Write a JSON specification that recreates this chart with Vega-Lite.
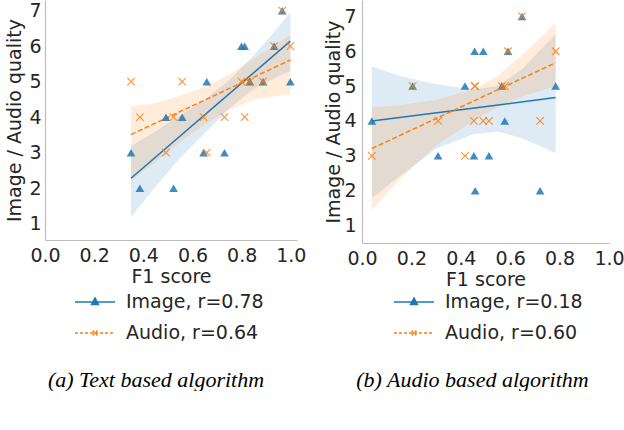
{
  "$schema": "https://vega.github.io/schema/vega-lite/v6.json",
  "background": "white",
  "padding": {"left": 5, "top": 0, "right": 0, "bottom": 0},
  "spacing": 18,
  "datasets": {
    "a_pts": [
      {"f1": 0.350, "q": 3, "s": "Image, r=0.78"}, {"f1": 0.386, "q": 2, "s": "Image, r=0.78"},
      {"f1": 0.492, "q": 4, "s": "Image, r=0.78"}, {"f1": 0.523, "q": 2, "s": "Image, r=0.78"},
      {"f1": 0.558, "q": 4, "s": "Image, r=0.78"}, {"f1": 0.645, "q": 3, "s": "Image, r=0.78"},
      {"f1": 0.658, "q": 5, "s": "Image, r=0.78"}, {"f1": 0.730, "q": 3, "s": "Image, r=0.78"},
      {"f1": 0.799, "q": 6, "s": "Image, r=0.78"}, {"f1": 0.812, "q": 6, "s": "Image, r=0.78"},
      {"f1": 0.833, "q": 5, "s": "Image, r=0.78"}, {"f1": 0.887, "q": 5, "s": "Image, r=0.78"},
      {"f1": 0.932, "q": 6, "s": "Image, r=0.78"}, {"f1": 0.965, "q": 7, "s": "Image, r=0.78"},
      {"f1": 0.998, "q": 5, "s": "Image, r=0.78"},
      {"f1": 0.350, "q": 5, "s": "Audio, r=0.64"}, {"f1": 0.386, "q": 4, "s": "Audio, r=0.64"},
      {"f1": 0.492, "q": 3, "s": "Audio, r=0.64"}, {"f1": 0.523, "q": 4, "s": "Audio, r=0.64"},
      {"f1": 0.558, "q": 5, "s": "Audio, r=0.64"}, {"f1": 0.645, "q": 4, "s": "Audio, r=0.64"},
      {"f1": 0.658, "q": 3, "s": "Audio, r=0.64"}, {"f1": 0.730, "q": 4, "s": "Audio, r=0.64"},
      {"f1": 0.799, "q": 5, "s": "Audio, r=0.64"}, {"f1": 0.812, "q": 4, "s": "Audio, r=0.64"},
      {"f1": 0.833, "q": 5, "s": "Audio, r=0.64"}, {"f1": 0.887, "q": 5, "s": "Audio, r=0.64"},
      {"f1": 0.932, "q": 6, "s": "Audio, r=0.64"}, {"f1": 0.965, "q": 7, "s": "Audio, r=0.64"},
      {"f1": 0.998, "q": 6, "s": "Audio, r=0.64"}
    ],
    "a_fit": [
      {"f1": 0.350, "q": 2.28, "s": "Image, r=0.78"}, {"f1": 0.998, "q": 6.14, "s": "Image, r=0.78"},
      {"f1": 0.350, "q": 3.51, "s": "Audio, r=0.64"}, {"f1": 0.998, "q": 5.61, "s": "Audio, r=0.64"}
    ],
    "a_band": [
      {"f1": 0.350, "q": 1.19, "hi": 3.19, "s": "Image, r=0.78"},
      {"f1": 0.450, "q": 2.05, "hi": 3.60, "s": "Image, r=0.78"},
      {"f1": 0.550, "q": 2.85, "hi": 4.05, "s": "Image, r=0.78"},
      {"f1": 0.650, "q": 3.55, "hi": 4.50, "s": "Image, r=0.78"},
      {"f1": 0.750, "q": 4.25, "hi": 5.05, "s": "Image, r=0.78"},
      {"f1": 0.850, "q": 4.80, "hi": 5.75, "s": "Image, r=0.78"},
      {"f1": 0.950, "q": 5.15, "hi": 6.55, "s": "Image, r=0.78"},
      {"f1": 0.998, "q": 5.30, "hi": 6.96, "s": "Image, r=0.78"},
      {"f1": 0.350, "q": 2.20, "hi": 4.30, "s": "Audio, r=0.64"},
      {"f1": 0.450, "q": 2.75, "hi": 4.40, "s": "Audio, r=0.64"},
      {"f1": 0.550, "q": 3.30, "hi": 4.60, "s": "Audio, r=0.64"},
      {"f1": 0.650, "q": 3.80, "hi": 4.85, "s": "Audio, r=0.64"},
      {"f1": 0.750, "q": 4.20, "hi": 5.20, "s": "Audio, r=0.64"},
      {"f1": 0.850, "q": 4.50, "hi": 5.65, "s": "Audio, r=0.64"},
      {"f1": 0.950, "q": 4.60, "hi": 6.10, "s": "Audio, r=0.64"},
      {"f1": 0.998, "q": 4.65, "hi": 6.31, "s": "Audio, r=0.64"}
    ],
    "b_pts": [
      {"f1": 0.040, "q": 4, "s": "Image, r=0.18"}, {"f1": 0.205, "q": 5, "s": "Image, r=0.18"},
      {"f1": 0.308, "q": 3, "s": "Image, r=0.18"}, {"f1": 0.417, "q": 5, "s": "Image, r=0.18"},
      {"f1": 0.453, "q": 3, "s": "Image, r=0.18"}, {"f1": 0.456, "q": 6, "s": "Image, r=0.18"},
      {"f1": 0.458, "q": 2, "s": "Image, r=0.18"}, {"f1": 0.491, "q": 6, "s": "Image, r=0.18"},
      {"f1": 0.514, "q": 3, "s": "Image, r=0.18"}, {"f1": 0.566, "q": 5, "s": "Image, r=0.18"},
      {"f1": 0.578, "q": 4, "s": "Image, r=0.18"}, {"f1": 0.591, "q": 6, "s": "Image, r=0.18"},
      {"f1": 0.648, "q": 7, "s": "Image, r=0.18"}, {"f1": 0.721, "q": 2, "s": "Image, r=0.18"},
      {"f1": 0.784, "q": 5, "s": "Image, r=0.18"},
      {"f1": 0.040, "q": 3, "s": "Audio, r=0.60"}, {"f1": 0.205, "q": 5, "s": "Audio, r=0.60"},
      {"f1": 0.308, "q": 4, "s": "Audio, r=0.60"}, {"f1": 0.417, "q": 3, "s": "Audio, r=0.60"},
      {"f1": 0.453, "q": 4, "s": "Audio, r=0.60"}, {"f1": 0.456, "q": 5, "s": "Audio, r=0.60"},
      {"f1": 0.458, "q": 5, "s": "Audio, r=0.60"}, {"f1": 0.491, "q": 4, "s": "Audio, r=0.60"},
      {"f1": 0.514, "q": 4, "s": "Audio, r=0.60"}, {"f1": 0.566, "q": 5, "s": "Audio, r=0.60"},
      {"f1": 0.578, "q": 5, "s": "Audio, r=0.60"}, {"f1": 0.591, "q": 6, "s": "Audio, r=0.60"},
      {"f1": 0.648, "q": 7, "s": "Audio, r=0.60"}, {"f1": 0.721, "q": 4, "s": "Audio, r=0.60"},
      {"f1": 0.784, "q": 6, "s": "Audio, r=0.60"}
    ],
    "b_fit": [
      {"f1": 0.040, "q": 4.00, "s": "Image, r=0.18"}, {"f1": 0.784, "q": 4.67, "s": "Image, r=0.18"},
      {"f1": 0.040, "q": 3.21, "s": "Audio, r=0.60"}, {"f1": 0.784, "q": 5.67, "s": "Audio, r=0.60"}
    ],
    "b_band": [
      {"f1": 0.040, "q": 1.78, "hi": 5.57, "s": "Image, r=0.18"},
      {"f1": 0.150, "q": 2.40, "hi": 5.30, "s": "Image, r=0.18"},
      {"f1": 0.300, "q": 3.20, "hi": 5.05, "s": "Image, r=0.18"},
      {"f1": 0.450, "q": 3.62, "hi": 4.90, "s": "Image, r=0.18"},
      {"f1": 0.550, "q": 3.70, "hi": 5.00, "s": "Image, r=0.18"},
      {"f1": 0.650, "q": 3.50, "hi": 5.50, "s": "Image, r=0.18"},
      {"f1": 0.784, "q": 3.08, "hi": 6.50, "s": "Image, r=0.18"},
      {"f1": 0.040, "q": 1.44, "hi": 4.39, "s": "Audio, r=0.60"},
      {"f1": 0.150, "q": 2.30, "hi": 4.45, "s": "Audio, r=0.60"},
      {"f1": 0.300, "q": 3.30, "hi": 4.60, "s": "Audio, r=0.60"},
      {"f1": 0.450, "q": 4.00, "hi": 4.90, "s": "Audio, r=0.60"},
      {"f1": 0.550, "q": 4.40, "hi": 5.30, "s": "Audio, r=0.60"},
      {"f1": 0.650, "q": 4.70, "hi": 5.90, "s": "Audio, r=0.60"},
      {"f1": 0.784, "q": 5.00, "hi": 6.80, "s": "Audio, r=0.60"}
    ]
  },
  "config": {
    "view": {"stroke": null},
    "axis": {
      "domainColor": "#bcbcbc", "domainWidth": 1.2, "ticks": false, "grid": false,
      "labelFont": "DejaVu Sans", "labelFontSize": 19, "labelColor": "#262626",
      "titleFont": "DejaVu Sans", "titleFontSize": 19, "titleFontWeight": "normal", "titleColor": "#262626",
      "labelFlush": false, "labelBound": false, "labelOverlap": false
    },
    "axisX": {"labelPadding": 6, "titlePadding": 2},
    "axisY": {"labelPadding": 4, "titlePadding": 4},
    "legend": {
      "labelFont": "DejaVu Sans", "labelFontSize": 19, "labelColor": "#262626",
      "labelOffset": 10, "symbolSize": 1600, "rowPadding": -10, "symbolStrokeWidth": 1.5
    },
    "title": {"font": "Liberation Serif", "fontSize": 22, "fontStyle": "italic", "fontWeight": "normal", "color": "#000000"}
  },
  "resolve": {"scale": {"color": "independent", "x": "independent", "y": "independent"}, "legend": {"color": "independent"}},
  "hconcat": [
    {
      "width": 252,
      "height": 240,
      "title": {"text": "(a) Text based algorithm", "orient": "bottom", "anchor": "middle", "dx": -15, "offset": 27},
      "encoding": {
        "x": {"field": "f1", "type": "quantitative", "scale": {"domain": [0, 1.025], "nice": false, "zero": false},
              "axis": {"values": [0, 0.2, 0.4, 0.6, 0.8, 1.0], "format": ".1f", "title": "F1 score"}},
        "y": {"field": "q", "type": "quantitative", "scale": {"domain": [0.54, 7.3], "nice": false, "zero": false},
              "axis": {"values": [1, 2, 3, 4, 5, 6, 7], "format": "d", "title": "Image / Audio quality", "labelOverlap": false, "labelFlush": false, "labelSeparation": 0}},
        "color": {"field": "s", "type": "nominal",
                  "scale": {"domain": ["Image, r=0.78", "Audio, r=0.64"], "range": ["#1f77b4", "#ff7f0e"]},
                  "legend": {"title": null, "orient": "none", "legendX": 29, "legendY": 281, "direction": "vertical",
                    "encode": {"symbols": {"update": {
                      "shape": [{"test": "indexof(datum.value,'Image')>=0", "value": "M-1,0H1M0,-0.2L0.17,0.12H-0.17Z"}, {"value": "M-1,0H1M-0.12,-0.12L0.12,0.12M-0.12,0.12L0.12,-0.12"}],
                      "strokeDash": [{"test": "indexof(datum.value,'Audio')>=0", "value": [3, 2]}, {"value": [1, 0]}],
                      "fill": [{"test": "indexof(datum.value,'Image')>=0", "value": "#1f77b4"}, {"value": "#ff7f0e"}],
                      "stroke": [{"test": "indexof(datum.value,'Image')>=0", "value": "#1f77b4"}, {"value": "#ffb070"}],
                      "opacity": {"value": 1}, "fillOpacity": {"value": 1}, "strokeOpacity": {"value": 1}}}}}}
      },
      "layer": [
        {"data": {"name": "a_band"}, "mark": {"type": "area", "opacity": 0.15},
         "encoding": {"y2": {"field": "hi"}}},
        {"data": {"name": "a_fit"}, "transform": [{"filter": "indexof(datum.s,'Image')>=0"}], "mark": {"type": "line", "strokeWidth": 1.5}},
        {"data": {"name": "a_fit"}, "transform": [{"filter": "indexof(datum.s,'Audio')>=0"}], "mark": {"type": "line", "strokeWidth": 1.5, "strokeDash": [5, 2.5]}},
        {"data": {"name": "a_pts"}, "transform": [{"filter": "indexof(datum.s,'Image')>=0"}], "mark": {"type": "point", "shape": "triangle-up", "filled": true, "size": 75, "opacity": 0.85}},
        {"data": {"name": "a_pts"}, "transform": [{"filter": "indexof(datum.s,'Audio')>=0"}], "mark": {"type": "point", "shape": "M-1,-1L1,1M-1,1L1,-1", "filled": false, "size": 56, "strokeWidth": 1.1, "opacity": 0.85}}
      ]
    },
    {
      "width": 247,
      "height": 243,
      "title": {"text": "(b) Audio based algorithm", "orient": "bottom", "anchor": "middle", "dx": -13, "offset": 27},
      "encoding": {
        "x": {"field": "f1", "type": "quantitative", "scale": {"domain": [0, 1], "nice": false, "zero": false},
              "axis": {"values": [0, 0.2, 0.4, 0.6, 0.8, 1.0], "format": ".1f", "title": "F1 score"}},
        "y": {"field": "q", "type": "quantitative", "scale": {"domain": [0.5, 7.47], "nice": false, "zero": false},
              "axis": {"values": [1, 2, 3, 4, 5, 6, 7], "format": "d", "title": "Image / Audio quality", "labelPadding": 6, "titlePadding": 0, "labelOverlap": false, "labelFlush": false, "labelSeparation": 0}},
        "color": {"field": "s", "type": "nominal",
                  "scale": {"domain": ["Image, r=0.18", "Audio, r=0.60"], "range": ["#1f77b4", "#ff7f0e"]},
                  "legend": {"title": null, "orient": "none", "legendX": 31, "legendY": 281, "direction": "vertical",
                    "encode": {"symbols": {"update": {
                      "shape": [{"test": "indexof(datum.value,'Image')>=0", "value": "M-1,0H1M0,-0.2L0.17,0.12H-0.17Z"}, {"value": "M-1,0H1M-0.12,-0.12L0.12,0.12M-0.12,0.12L0.12,-0.12"}],
                      "strokeDash": [{"test": "indexof(datum.value,'Audio')>=0", "value": [3, 2]}, {"value": [1, 0]}],
                      "fill": [{"test": "indexof(datum.value,'Image')>=0", "value": "#1f77b4"}, {"value": "#ff7f0e"}],
                      "stroke": [{"test": "indexof(datum.value,'Image')>=0", "value": "#1f77b4"}, {"value": "#ff7f0e"}],
                      "opacity": {"value": 1}, "fillOpacity": {"value": 1}, "strokeOpacity": {"value": 1}}}}}}
      },
      "layer": [
        {"data": {"name": "b_band"}, "mark": {"type": "area", "opacity": 0.15},
         "encoding": {"y2": {"field": "hi"}}},
        {"data": {"name": "b_fit"}, "transform": [{"filter": "indexof(datum.s,'Image')>=0"}], "mark": {"type": "line", "strokeWidth": 1.5}},
        {"data": {"name": "b_fit"}, "transform": [{"filter": "indexof(datum.s,'Audio')>=0"}], "mark": {"type": "line", "strokeWidth": 1.5, "strokeDash": [5, 2.5]}},
        {"data": {"name": "b_pts"}, "transform": [{"filter": "indexof(datum.s,'Image')>=0"}], "mark": {"type": "point", "shape": "triangle-up", "filled": true, "size": 75, "opacity": 0.85}},
        {"data": {"name": "b_pts"}, "transform": [{"filter": "indexof(datum.s,'Audio')>=0"}], "mark": {"type": "point", "shape": "M-1,-1L1,1M-1,1L1,-1", "filled": false, "size": 56, "strokeWidth": 1.1, "opacity": 0.85}}
      ]
    }
  ]
}
